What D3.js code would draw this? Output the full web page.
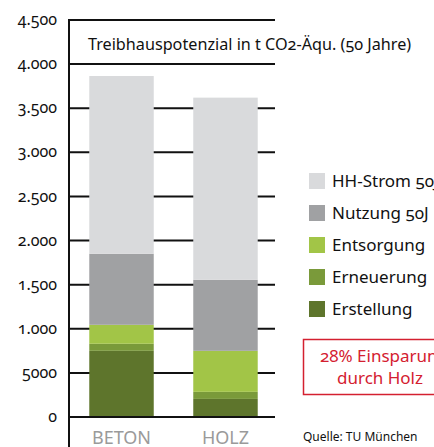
<!DOCTYPE html>
<html>
<head>
<meta charset="utf-8">
<script src="https://cdn.jsdelivr.net/npm/d3@7"></script>
<style>
  body { margin: 0; background: #fff; }
  svg { display: block; font-family: "Noto Sans", "Open Sans", sans-serif; font-feature-settings: "onum"; }
</style>
</head>
<body>
<svg id="chart"></svg>
<script>
const width = 434;
const height = 447;

const categories = ["BETON", "HOLZ"];
const seriesNames = ["Erstellung", "Erneuerung", "Entsorgung", "Nutzung 50J", "HH-Strom 50J"];
const erstellung = [750, 205];
const erneuerung = [80, 80];
const entsorgung = [215, 465];
const nutzung = [805, 805];
const hhStrom = [2015, 2065];
const tickValues = [0, 500, 1000, 1500, 2000, 2500, 3000, 3500, 4000, 4500];
const tickLabels = ["0", "5000", "1.000", "1.500", "2.000", "2.500", "3.000", "3.500", "4.000", "4.500"];
const colors = ["#5e752c", "#7a9a3a", "#a2c547", "#a0a1a3", "#d9dadc"];

const title = "Treibhauspotenzial in t CO2-Äqu. (50 Jahre)";
const legendOrder = ["HH-Strom 50J", "Nutzung 50J", "Entsorgung", "Erneuerung", "Erstellung"];

const svg = d3.select("#chart")
  .attr("width", width)
  .attr("height", height);

const y = d3.scaleLinear()
  .domain([0, 4500])
  .range([417, 20]);

const x = d3.scaleBand()
  .domain(categories)
  .range([69, 278])
  .paddingInner(0.38)
  .paddingOuter(0.195);

const color = d3.scaleOrdinal().domain(seriesNames).range(colors);

// gridlines behind bars
svg.append("g")
  .selectAll("line")
  .data(tickValues)
  .join("line")
  .attr("x1", 69)
  .attr("x2", 275)
  .attr("y1", d => y(d))
  .attr("y2", d => y(d))
  .attr("stroke", "#111")
  .attr("stroke-width", 2);

// tick labels
svg.append("g")
  .selectAll("text")
  .data(tickValues)
  .join("text")
  .attr("x", 57)
  .attr("y", d => y(d))
  .attr("dy", "0.32em")
  .attr("text-anchor", "end")
  .attr("font-size", 16)
  .attr("fill", "#111")
  .text((d, i) => tickLabels[i]);

// vertical axis line
svg.append("line")
  .attr("x1", 69).attr("x2", 69)
  .attr("y1", y(4500) - 1).attr("y2", height)
  .attr("stroke", "#111")
  .attr("stroke-width", 2);

// stacked bars
const table = categories.map((c, i) => ({
  cat: c,
  "Erstellung": erstellung[i],
  "Erneuerung": erneuerung[i],
  "Entsorgung": entsorgung[i],
  "Nutzung 50J": nutzung[i],
  "HH-Strom 50J": hhStrom[i]
}));

const stacked = d3.stack().keys(seriesNames)(table);

svg.append("g")
  .selectAll("g")
  .data(stacked)
  .join("g")
  .attr("fill", d => color(d.key))
  .selectAll("rect")
  .data(d => d)
  .join("rect")
  .attr("x", d => x(d.data.cat))
  .attr("width", x.bandwidth())
  .attr("y", d => y(d[1]))
  .attr("height", d => y(d[0]) - y(d[1]));

// baseline over bars
svg.append("line")
  .attr("x1", 69).attr("x2", 275)
  .attr("y1", y(0)).attr("y2", y(0))
  .attr("stroke", "#111")
  .attr("stroke-width", 2);

// category labels (cut by the bottom edge, as in the original)
svg.append("g")
  .selectAll("text")
  .data(categories)
  .join("text")
  .attr("x", d => x(d) + x.bandwidth() / 2)
  .attr("y", 444)
  .attr("text-anchor", "middle")
  .attr("font-size", 18)
  .attr("fill", "#9a9a9a")
  .text(d => d);

// title
svg.append("text")
  .attr("x", 88)
  .attr("y", 50)
  .attr("font-size", 16.2)
  .attr("fill", "#111")
  .text(title);

// legend
const legend = svg.append("g")
  .selectAll("g")
  .data(legendOrder)
  .join("g")
  .attr("transform", (d, i) => `translate(309, ${173 + i * 32})`);

legend.append("rect")
  .attr("width", 16)
  .attr("height", 16)
  .attr("fill", d => color(d));

legend.append("text")
  .attr("x", 23)
  .attr("y", 8)
  .attr("dy", "0.35em")
  .attr("font-size", 17)
  .attr("fill", "#111")
  .text(d => d);

// savings box
svg.append("rect")
  .attr("x", 303.5)
  .attr("y", 339.5)
  .attr("width", 160)
  .attr("height", 55)
  .attr("fill", "none")
  .attr("stroke", "#d42030")
  .attr("stroke-width", 1.5);

svg.append("text")
  .attr("x", 384)
  .attr("y", 362)
  .attr("text-anchor", "middle")
  .attr("font-size", 17)
  .attr("fill", "#d42030")
  .text("28% Einsparung");

svg.append("text")
  .attr("x", 380)
  .attr("y", 384)
  .attr("text-anchor", "middle")
  .attr("font-size", 17)
  .attr("fill", "#d42030")
  .text("durch Holz");

svg.append("text")
  .attr("x", 303)
  .attr("y", 441)
  .attr("font-size", 12)
  .attr("fill", "#111")
  .text("Quelle: TU München");
</script>
</body>
</html>
